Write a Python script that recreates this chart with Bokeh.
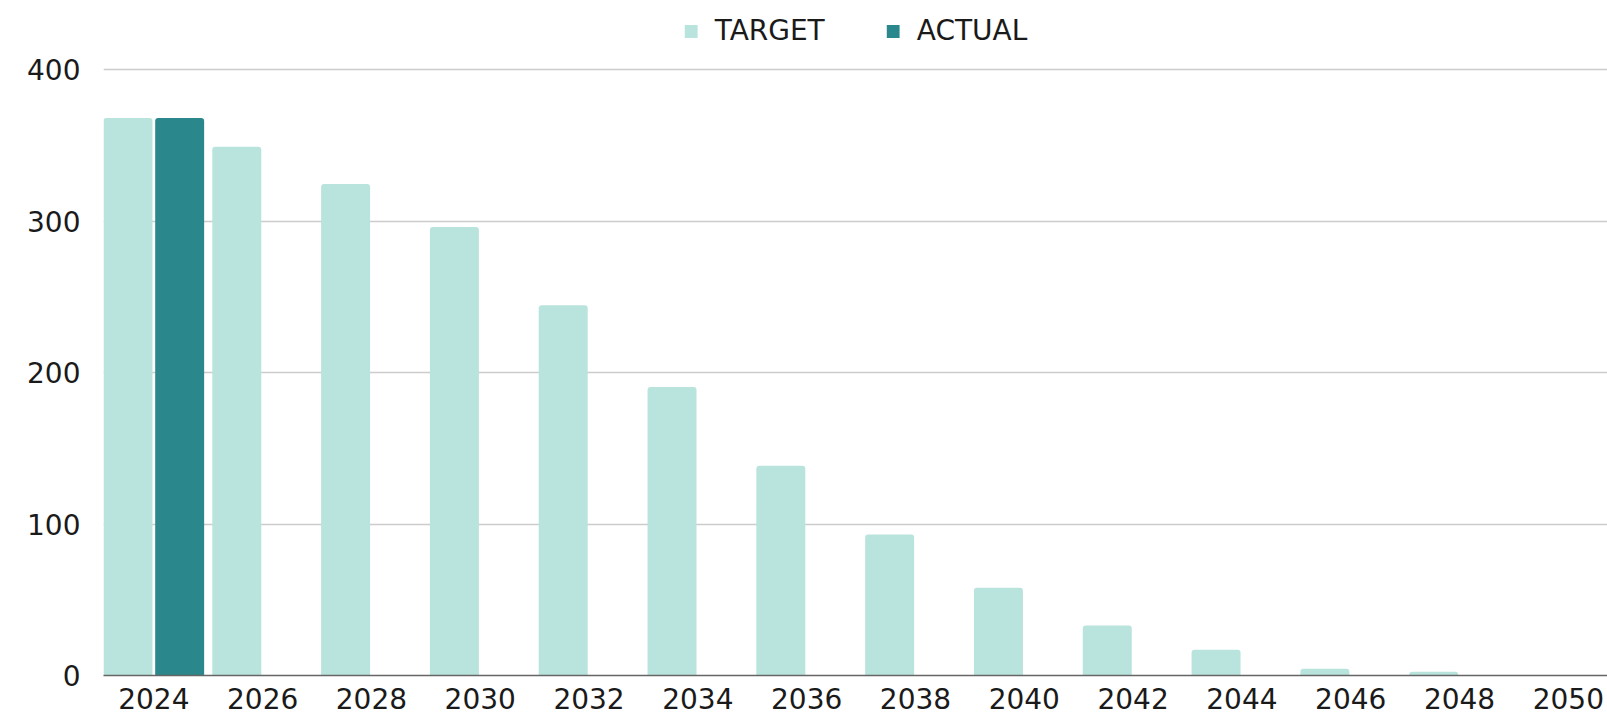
from bokeh.plotting import figure
from bokeh.models import ColumnDataSource, Range1d, FixedTicker, Legend, LegendItem
from bokeh.transform import dodge
from bokeh.embed import file_html
from bokeh.resources import INLINE

years = ["2024", "2026", "2028", "2030", "2032", "2034", "2036",
         "2038", "2040", "2042", "2044", "2046", "2048", "2050"]
target = [368, 349, 324.5, 296, 244.5, 190.5, 138.5, 93, 58, 33, 17, 4.5, 2.5, 0]
actual = [368, float("nan"), float("nan"), float("nan"), float("nan"), float("nan"),
          float("nan"), float("nan"), float("nan"), float("nan"), float("nan"),
          float("nan"), float("nan"), float("nan")]
y_ticks = [0, 100, 200, 300, 400]

FONT = "DejaVu Sans"
TARGET_COLOR = "#b9e3dd"
ACTUAL_COLOR = "#2a888c"

idx = list(range(len(years)))
source = ColumnDataSource(dict(x=idx, target=target, actual=actual))

p = figure(width=1607, height=716, output_backend="svg", toolbar_location=None,
           x_range=Range1d(-0.4625, 13.36), y_range=Range1d(0, 445.6),
           min_border_left=103, min_border_right=0, min_border_top=0,
           min_border_bottom=41)

r_t = p.vbar(x=dodge("x", -0.2375, range=p.x_range), top="target", width=0.45,
             source=source, fill_color=TARGET_COLOR, line_color=None,
             border_radius=(3, 3, 0, 0))
r_a = p.vbar(x=dodge("x", 0.2375, range=p.x_range), top="actual", width=0.45,
             source=source, fill_color=ACTUAL_COLOR, line_color=None,
             border_radius=(3, 3, 0, 0))

p.outline_line_color = None
p.xgrid.grid_line_color = None
p.ygrid.grid_line_color = "#cccccc"
p.ygrid.grid_line_width = 1.3
p.ygrid.ticker = FixedTicker(ticks=y_ticks)

p.xaxis.ticker = FixedTicker(ticks=idx)
p.xaxis.major_label_overrides = {i: y for i, y in enumerate(years)}
p.xaxis.axis_line_color = "#666666"
p.xaxis.axis_line_width = 1.3
p.xaxis.major_tick_line_color = None
p.xaxis.minor_tick_line_color = None
p.xaxis.major_tick_out = 0
p.xaxis.major_tick_in = 0
p.xaxis.major_label_standoff = 12
p.xaxis.major_label_text_font = FONT
p.xaxis.major_label_text_font_size = "28px"
p.xaxis.major_label_text_color = "#1a1a1a"

p.yaxis.ticker = FixedTicker(ticks=y_ticks)
p.yaxis.axis_line_color = None
p.yaxis.major_tick_line_color = None
p.yaxis.minor_tick_line_color = None
p.yaxis.major_tick_out = 0
p.yaxis.major_tick_in = 0
p.yaxis.major_label_standoff = 23
p.yaxis.major_label_text_font = FONT
p.yaxis.major_label_text_font_size = "28px"
p.yaxis.major_label_text_color = "#1a1a1a"

legend = Legend(items=[LegendItem(label="TARGET", renderers=[r_t]),
                       LegendItem(label="ACTUAL", renderers=[r_a])],
                location="top_center", orientation="horizontal",
                glyph_width=16, glyph_height=16, label_standoff=16, spacing=60,
                padding=0, margin=14, border_line_color=None,
                background_fill_alpha=0,
                label_text_font=FONT, label_text_font_size="28px",
                label_text_color="#1a1a1a")
p.add_layout(legend)

open("out.html", "w").write(file_html(p, INLINE))
